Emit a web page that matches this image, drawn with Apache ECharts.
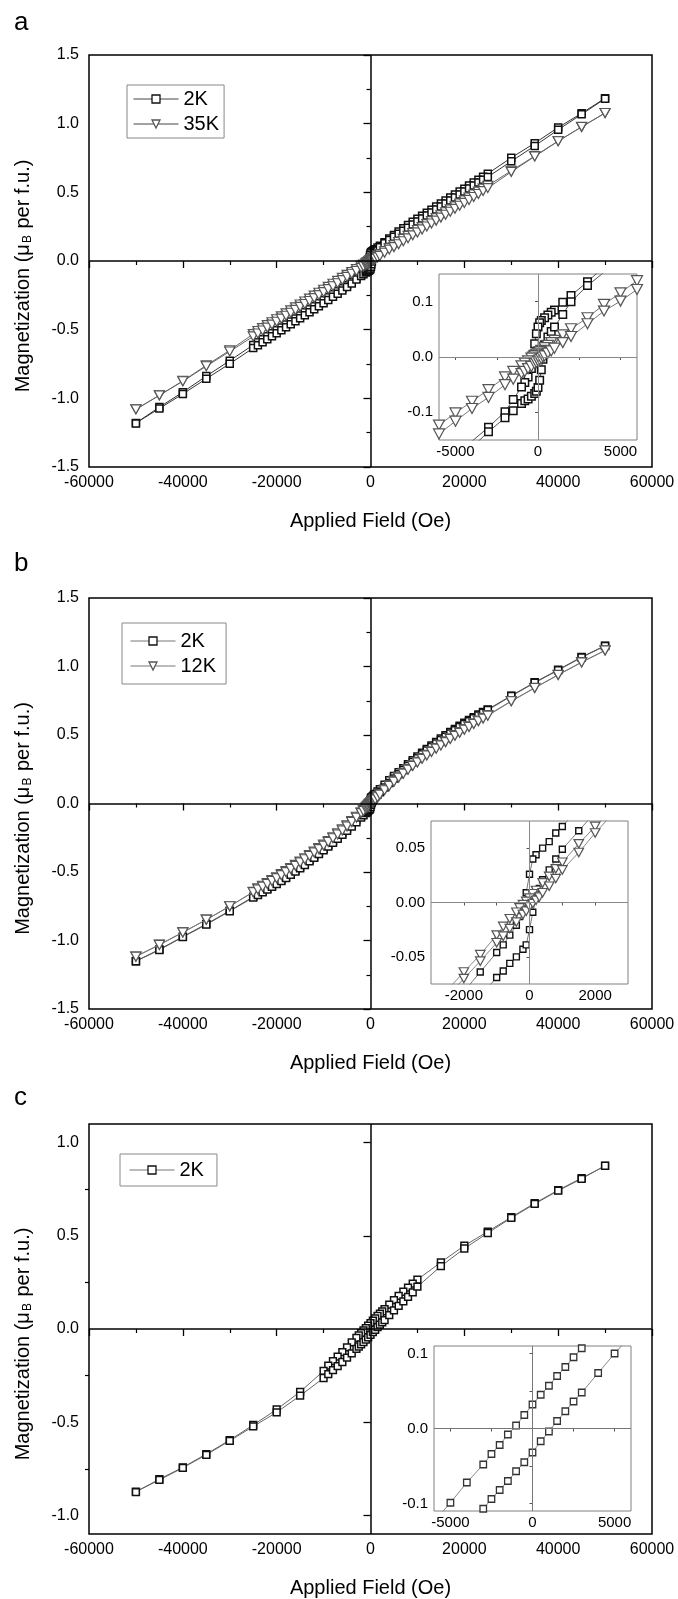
<!DOCTYPE html>
<html><head><meta charset="utf-8">
<script src="https://cdn.jsdelivr.net/npm/echarts@6/dist/echarts.min.js"></script>
<style>html,body{margin:0;padding:0;background:#fff}#c{width:678px;height:1599px}</style>
</head><body><div id="c"></div>
<script>
// ---------- DATA ----------
const fieldDownAB = [50000,45000,40000,35000,30000,25000,
24000,23000,22000,21000,20000,19000,18000,17000,16000,15000,14000,13000,12000,11000,10000,9000,8000,7000,6000,5000,4000,3000,
2000,1500,1000,800,600,400,200,100,0,
-100,-200,-300,-400,-600,-800,-1000,-1500,-2000,
-3000,-4000,-5000,-6000,-7000,-8000,-9000,-10000,-11000,-12000,-13000,-14000,-15000,-16000,-17000,-18000,-19000,-20000,-21000,-22000,-23000,-24000,
-25000,-30000,-35000,-40000,-45000,-50000];
const fieldUpAB = [-50000,-45000,-40000,-35000,-30000,-25000,
-24000,-23000,-22000,-21000,-20000,-19000,-18000,-17000,-16000,-15000,-14000,-13000,-12000,-11000,-10000,-9000,-8000,-7000,-6000,-5000,-4000,-3000,
-2000,-1500,-1000,-800,-600,-400,-200,-100,0,
100,200,300,400,600,800,1000,1500,2000,
3000,4000,5000,6000,7000,8000,9000,10000,11000,12000,13000,14000,15000,16000,17000,18000,19000,20000,21000,22000,23000,24000,
25000,30000,35000,40000,45000,50000];

const mA2KDown = [1.185,1.076,0.972,0.858,0.752,0.636,
0.614,0.592,0.571,0.549,0.527,0.506,0.484,0.462,0.440,0.418,0.396,0.374,0.352,0.330,0.308,0.285,0.262,0.239,0.215,0.190,0.163,0.136,
0.111,0.099,0.085,0.081,0.076,0.071,0.066,0.062,0.054,
0.042,0.024,0.004,-0.021,-0.036,-0.046,-0.054,-0.077,-0.099,
-0.127,-0.152,-0.176,-0.198,-0.220,-0.242,-0.264,-0.286,-0.308,-0.330,-0.352,-0.374,-0.396,-0.418,-0.440,-0.462,-0.484,-0.505,-0.527,-0.548,-0.570,-0.591,
-0.611,-0.726,-0.838,-0.955,-1.064,-1.180];
const mA2KUp = [-1.183,-1.074,-0.968,-0.857,-0.748,-0.634,
-0.613,-0.591,-0.570,-0.548,-0.526,-0.505,-0.483,-0.461,-0.439,-0.417,-0.395,-0.373,-0.351,-0.329,-0.307,-0.284,-0.261,-0.238,-0.214,-0.189,-0.163,-0.135,
-0.110,-0.097,-0.084,-0.079,-0.076,-0.071,-0.066,-0.062,-0.055,
-0.042,-0.023,-0.004,0.022,0.036,0.046,0.054,0.077,0.100,
0.129,0.153,0.177,0.199,0.221,0.243,0.265,0.287,0.309,0.331,0.353,0.375,0.397,0.419,0.441,0.463,0.485,0.506,0.528,0.549,0.571,0.592,
0.612,0.726,0.838,0.956,1.068,1.182];
const mA35KDown = [1.078,0.976,0.874,0.764,0.657,0.548,
0.527,0.505,0.484,0.462,0.441,0.419,0.398,0.376,0.355,0.333,0.312,0.290,0.269,0.247,0.226,0.204,0.183,0.161,0.138,0.116,0.095,0.071,
0.051,0.040,0.030,0.026,0.021,0.017,0.012,0.010,0.007,
0.005,0.003,0.000,-0.002,-0.007,-0.011,-0.016,-0.026,-0.036,
-0.059,-0.080,-0.101,-0.123,-0.145,-0.166,-0.188,-0.209,-0.231,-0.252,-0.274,-0.295,-0.317,-0.338,-0.360,-0.381,-0.403,-0.424,-0.446,-0.467,-0.489,-0.510,
-0.532,-0.650,-0.760,-0.873,-0.978,-1.080];
const mA35KUp = [-1.080,-0.978,-0.876,-0.766,-0.659,-0.549,
-0.528,-0.506,-0.485,-0.463,-0.442,-0.420,-0.399,-0.377,-0.356,-0.334,-0.313,-0.291,-0.270,-0.248,-0.227,-0.205,-0.184,-0.162,-0.139,-0.116,-0.093,-0.073,
-0.050,-0.040,-0.030,-0.026,-0.021,-0.017,-0.012,-0.010,-0.007,
-0.005,-0.003,0.000,0.002,0.007,0.011,0.016,0.026,0.037,
0.060,0.083,0.101,0.122,0.144,0.165,0.187,0.208,0.230,0.251,0.273,0.294,0.316,0.337,0.359,0.380,0.402,0.423,0.445,0.466,0.488,0.509,
0.531,0.649,0.761,0.872,0.977,1.078];

const mB2KDown = [1.152,1.070,0.976,0.885,0.787,0.687,
0.668,0.649,0.629,0.609,0.589,0.567,0.544,0.521,0.498,0.474,0.449,0.423,0.397,0.370,0.343,0.315,0.287,0.258,0.229,0.200,0.169,0.137,
0.104,0.087,0.070,0.064,0.056,0.050,0.044,0.040,0.026,
0.009,-0.004,-0.013,-0.021,-0.030,-0.039,-0.046,-0.064,-0.082,
-0.117,-0.150,-0.183,-0.214,-0.244,-0.274,-0.303,-0.331,-0.359,-0.386,-0.412,-0.438,-0.463,-0.488,-0.511,-0.535,-0.558,-0.580,-0.601,-0.622,-0.642,-0.662,
-0.681,-0.783,-0.880,-0.972,-1.065,-1.151];
const mB2KUp = [-1.151,-1.069,-0.975,-0.884,-0.786,-0.686,
-0.667,-0.648,-0.628,-0.608,-0.588,-0.566,-0.543,-0.520,-0.497,-0.473,-0.448,-0.422,-0.396,-0.369,-0.342,-0.314,-0.286,-0.257,-0.228,-0.199,-0.168,-0.136,
-0.103,-0.086,-0.069,-0.063,-0.056,-0.050,-0.043,-0.039,-0.025,
-0.009,0.004,0.013,0.021,0.030,0.040,0.049,0.066,0.083,
0.117,0.150,0.183,0.214,0.244,0.274,0.303,0.331,0.359,0.386,0.412,0.438,0.463,0.488,0.511,0.535,0.558,0.580,0.601,0.622,0.642,0.662,
0.682,0.784,0.881,0.973,1.066,1.150];
const mB12KDown = [1.118,1.032,0.940,0.845,0.748,0.645,
0.625,0.605,0.585,0.564,0.543,0.521,0.499,0.476,0.453,0.429,0.405,0.381,0.356,0.331,0.305,0.279,0.252,0.224,0.195,0.165,0.134,0.102,
0.070,0.054,0.037,0.031,0.024,0.018,0.011,0.008,0.004,
0.001,-0.002,-0.005,-0.009,-0.015,-0.022,-0.030,-0.048,-0.064,
-0.097,-0.128,-0.159,-0.189,-0.218,-0.247,-0.274,-0.300,-0.326,-0.351,-0.376,-0.400,-0.424,-0.448,-0.471,-0.494,-0.516,-0.538,-0.559,-0.580,-0.600,-0.620,
-0.645,-0.750,-0.848,-0.940,-1.030,-1.117];
const mB12KUp = [-1.118,-1.032,-0.941,-0.848,-0.750,-0.647,
-0.627,-0.607,-0.587,-0.566,-0.545,-0.523,-0.501,-0.478,-0.455,-0.431,-0.407,-0.383,-0.358,-0.333,-0.307,-0.281,-0.254,-0.226,-0.197,-0.167,-0.135,-0.103,
-0.070,-0.054,-0.037,-0.031,-0.024,-0.018,-0.011,-0.008,-0.004,
-0.001,0.002,0.005,0.009,0.015,0.022,0.030,0.046,0.064,
0.097,0.128,0.159,0.189,0.218,0.247,0.274,0.300,0.326,0.351,0.376,0.400,0.424,0.448,0.471,0.494,0.516,0.538,0.559,0.580,0.600,0.620,
0.641,0.746,0.843,0.938,1.030,1.117];

const fieldDownC = [50000,45000,40000,35000,30000,25000,20000,15000,10000,9000,8000,7000,6000,5000,4000,
3000,2500,2000,1500,1000,500,0,-500,-1000,-1500,-2000,-2500,-3000,
-4000,-5000,-6000,-7000,-8000,-9000,-10000,-15000,-20000,-25000,-30000,-35000,-40000,-45000,-50000];
const fieldUpC = [-50000,-45000,-40000,-35000,-30000,-25000,-20000,-15000,-10000,-9000,-8000,-7000,-6000,-5000,-4000,
-3000,-2500,-2000,-1500,-1000,-500,0,500,1000,1500,2000,2500,3000,
4000,5000,6000,7000,8000,9000,10000,15000,20000,25000,30000,35000,40000,45000,50000];
const mC2KDown = [0.875,0.810,0.745,0.675,0.600,0.523,0.447,0.358,0.265,0.243,0.222,0.200,0.178,0.155,0.131,
0.107,0.095,0.082,0.070,0.057,0.045,0.032,0.018,0.004,-0.008,-0.022,-0.034,-0.048,
-0.072,-0.099,-0.124,-0.148,-0.172,-0.197,-0.225,-0.337,-0.432,-0.515,-0.596,-0.671,-0.742,-0.806,-0.873];
const mC2KUp = [-0.875,-0.810,-0.745,-0.675,-0.600,-0.523,-0.447,-0.358,-0.263,-0.242,-0.221,-0.199,-0.177,-0.154,-0.131,
-0.107,-0.094,-0.082,-0.070,-0.057,-0.045,-0.032,-0.017,-0.004,0.010,0.023,0.036,0.048,
0.074,0.100,0.124,0.148,0.172,0.197,0.227,0.337,0.432,0.515,0.596,0.671,0.742,0.806,0.876];

// tick labels
const insetXLabelsAC = [-5000, 0, 5000];
const insetXTicksAC = [-5000, -2500, 0, 2500, 5000];
const insetXLabelsB = [-2000, 0, 2000];
const insetXTicksB = [-2000, -1000, 0, 1000, 2000];
const insetYLabelsAC = [-0.1, 0, 0.1];
const insetYTicksAC = [-0.1, -0.05, 0, 0.05, 0.1];
const insetYLabelsB = [-0.05, 0, 0.05];
const insetYTicksB = [-0.05, -0.025, 0, 0.025, 0.05];
const mainYLabelsC = [-1, -0.5, 0, 0.5, 1];
const mainYMinorC = [-0.75, -0.25, 0.25, 0.75];

// ---------- BUILD ----------
const FONT = "'Liberation Sans', Arial, Helvetica, sans-serif";
function pairs(f, m) { return f.map((h, i) => [h, m[i]]); }
function loop(fd, md, fu, mu) { return pairs(fd, md).concat(pairs(fu, mu)); }

const loopA2K = loop(fieldDownAB, mA2KDown, fieldUpAB, mA2KUp);
const loopA35K = loop(fieldDownAB, mA35KDown, fieldUpAB, mA35KUp);
const loopB2K = loop(fieldDownAB, mB2KDown, fieldUpAB, mB2KUp);
const loopB12K = loop(fieldDownAB, mB12KDown, fieldUpAB, mB12KUp);
const loopC2K = loop(fieldDownC, mC2KDown, fieldUpC, mC2KUp);

const grids = [
  {left: 89, top: 55, width: 563, height: 412},
  {left: 439, top: 274, width: 198, height: 166},
  {left: 89, top: 598, width: 563, height: 411},
  {left: 431, top: 821, width: 197, height: 163},
  {left: 89, top: 1124, width: 563, height: 410},
  {left: 434, top: 1346, width: 197, height: 165}
].map((g, i) => Object.assign({
  show: true,
  borderColor: (i % 2 === 0) ? '#000' : '#808080',
  borderWidth: (i % 2 === 0) ? 1.5 : 1,
  backgroundColor: '#fff',
  containLabel: false,
  outerBoundsMode: 'none'
}, g));

function mainX(gi) {
  return {
    type: 'value', gridIndex: gi, min: -60000, max: 60000, interval: 20000,
    axisLine: {show: false},
    axisTick: {show: true, length: 7, lineStyle: {color: '#000', width: 1.3}},
    minorTick: {show: true, splitNumber: 2, length: 4, lineStyle: {color: '#000', width: 1.2}},
    splitLine: {show: false},
    axisLabel: {fontSize: 16, color: '#000', margin: 8, fontFamily: FONT, formatter: v => String(v)},
    name: 'Applied Field (Oe)', nameLocation: 'middle', nameGap: 44,
    nameTextStyle: {fontSize: 20, color: '#000', fontFamily: FONT}
  };
}
const yName = '{t|Magnetization (μ}{s|B}{t| per f.u.)}';
const yNameStyle = {
  color: '#000', fontFamily: FONT, padding: [0, 30, 0, 0],
  rich: {
    t: {fontSize: 20, color: '#000', fontFamily: FONT},
    s: {fontSize: 12, color: '#000', fontFamily: FONT, verticalAlign: 'bottom', padding: [9, 1, 0, 1]}
  }
};
function mainY(gi) {
  return {
    type: 'value', gridIndex: gi, min: -1.5, max: 1.5, interval: 0.5,
    axisLine: {show: false},
    axisTick: {show: true, length: 7, lineStyle: {color: '#000', width: 1.3}},
    minorTick: {show: true, splitNumber: 2, length: 4, lineStyle: {color: '#000', width: 1.2}},
    splitLine: {show: false},
    axisLabel: {fontSize: 16, color: '#000', margin: 10, fontFamily: FONT, formatter: v => v.toFixed(1)},
    name: yName, nameLocation: 'middle', nameGap: 55, nameTextStyle: yNameStyle
  };
}
function insetX(gi, mn, mx, labels, ticks) {
  return {
    type: 'value', gridIndex: gi, min: mn, max: mx,
    axisLine: {show: false},
    axisTick: {show: true, length: 3, customValues: ticks, lineStyle: {color: '#555', width: 1}},
    splitLine: {show: false},
    axisLabel: {fontSize: 15, color: '#000', margin: 4, fontFamily: FONT, customValues: labels, formatter: v => String(v)}
  };
}
function insetY(gi, mn, mx, labels, ticks, dec) {
  return {
    type: 'value', gridIndex: gi, min: mn, max: mx,
    axisLine: {show: false},
    axisTick: {show: true, length: 3, customValues: ticks, lineStyle: {color: '#555', width: 1}},
    splitLine: {show: false},
    axisLabel: {fontSize: 15, color: '#000', margin: 6, fontFamily: FONT, customValues: labels, formatter: v => v.toFixed(dec)}
  };
}

const yC = mainY(4);
delete yC.interval;
yC.min = -1.1; yC.max = 1.1;
yC.minorTick = {show: false};
yC.axisTick.customValues = mainYLabelsC;
yC.axisLabel.customValues = mainYLabelsC;
const yCMinor = {
  type: 'value', gridIndex: 4, min: -1.1, max: 1.1, position: 'left',
  axisLine: {show: false}, axisLabel: {show: false}, splitLine: {show: false},
  axisTick: {show: true, length: 4, customValues: mainYMinorC, lineStyle: {color: '#000', width: 1.2}}
};

const xAxes = [
  mainX(0), insetX(1, -6000, 6000, insetXLabelsAC, insetXTicksAC),
  mainX(2), insetX(3, -3000, 3000, insetXLabelsB, insetXTicksB),
  mainX(4), insetX(5, -6000, 6000, insetXLabelsAC, insetXTicksAC)
];
const yAxes = [
  mainY(0), insetY(1, -0.15, 0.15, insetYLabelsAC, insetYTicksAC, 1),
  mainY(2), insetY(3, -0.075, 0.075, insetYLabelsB, insetYTicksB, 2),
  yC, insetY(5, -0.11, 0.11, insetYLabelsAC, insetYTicksAC, 1),
  yCMinor
];

function zeroLines(color, width) {
  return {
    silent: true, animation: false, symbol: ['none', 'none'],
    label: {show: false}, emphasis: {disabled: true},
    lineStyle: {color: color, width: width, type: 'solid'},
    data: [{xAxis: 0}, {yAxis: 0}]
  };
}
function sqSeries(name, ai, data, size, stroke, bw, lineColor, zl) {
  const s = {
    type: 'line', name: name, xAxisIndex: ai, yAxisIndex: ai, data: data,
    symbol: 'rect', symbolSize: size, showSymbol: true, clip: true,
    lineStyle: {color: lineColor, width: 1},
    itemStyle: {color: '#fff', borderColor: stroke, borderWidth: bw},
    emphasis: {disabled: true}, silent: true, animation: false, z: 3
  };
  if (zl) s.markLine = zl;
  return s;
}
function triSeries(name, ai, data, size, stroke, bw, lineColor) {
  return {
    type: 'line', name: name, xAxisIndex: ai, yAxisIndex: ai, data: data,
    symbol: 'triangle', symbolRotate: 180, symbolSize: size, showSymbol: true, clip: true,
    lineStyle: {color: lineColor, width: 1},
    itemStyle: {color: '#fff', borderColor: stroke, borderWidth: bw},
    emphasis: {disabled: true}, silent: true, animation: false, z: 4
  };
}

const series = [
  sqSeries('2K', 0, loopA2K, 7, '#111', 1.5, '#333', zeroLines('#000', 1.5)),
  triSeries('35K', 0, loopA35K, [10, 9], '#555', 1.2, '#666'),
  sqSeries('2K', 1, loopA2K, 7.5, '#111', 1.5, '#555', zeroLines('#888', 1)),
  triSeries('35K', 1, loopA35K, [11, 10], '#555', 1.2, '#777'),
  sqSeries('2K', 2, loopB2K, 7, '#111', 1.5, '#555', zeroLines('#000', 1.5)),
  triSeries('12K', 2, loopB12K, [10, 9], '#555', 1.2, '#777'),
  sqSeries('2K', 3, loopB2K, 6, '#111', 1.4, '#777', zeroLines('#888', 1)),
  triSeries('12K', 3, loopB12K, [9.5, 8.5], '#555', 1.2, '#888'),
  sqSeries('2K', 4, loopC2K, 6.8, '#111', 1.5, '#666', zeroLines('#000', 1.5)),
  sqSeries('2K', 5, loopC2K, 6.5, '#333', 1.3, '#888', zeroLines('#777', 1))
];

function legend(names, left, top, pad, lineColor) {
  return {
    data: names, left: left, top: top, orient: 'vertical',
    itemWidth: 45, itemHeight: 10, itemGap: 5, padding: pad,
    backgroundColor: '#fff', borderColor: '#888', borderWidth: 1, borderRadius: 0,
    selectedMode: false,
    lineStyle: {width: 1, color: lineColor},
    itemStyle: {borderWidth: 1.3},
    textStyle: {fontSize: 20, color: '#000', fontFamily: FONT}
  };
}

const option = {
  animation: false,
  backgroundColor: '#fff',
  textStyle: {fontFamily: FONT, color: '#000'},
  grid: grids,
  xAxis: xAxes,
  yAxis: yAxes,
  legend: [
    legend(['2K', '35K'], 127, 85, [4, 5, 4, 6], '#444'),
    legend(['2K', '12K'], 122, 623, [8, 10, 8, 8], '#777'),
    legend(['2K'], 120, 1154, [6, 13, 6, 9], '#777')
  ],
  graphic: [
    {type: 'text', left: 14, top: 10, style: {text: 'a', font: '26px ' + FONT, fill: '#000'}},
    {type: 'text', left: 14, top: 551, style: {text: 'b', font: '26px ' + FONT, fill: '#000'}},
    {type: 'text', left: 14, top: 1085, style: {text: 'c', font: '26px ' + FONT, fill: '#000'}}
  ],
  series: series
};

const chart = echarts.init(document.getElementById('c'), null, {renderer: 'canvas'});
chart.setOption(option);
</script>
</body></html>
